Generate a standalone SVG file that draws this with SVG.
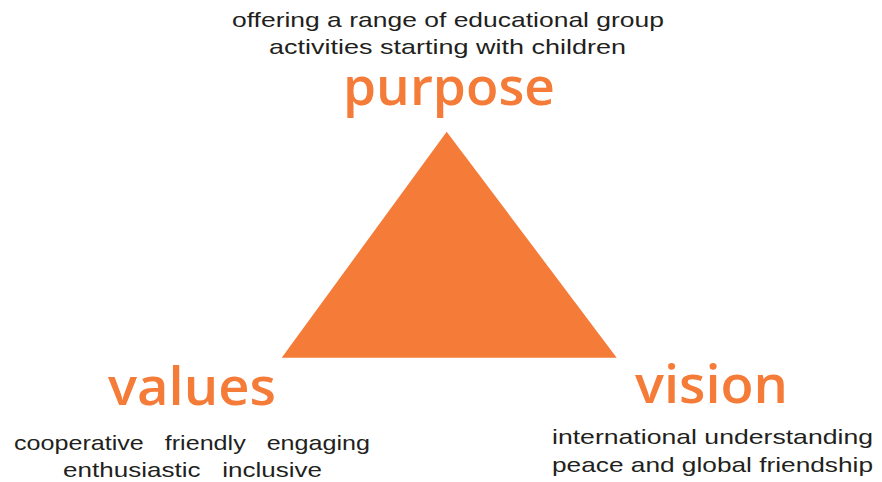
<svg xmlns="http://www.w3.org/2000/svg" width="882" height="482" viewBox="0 0 882 482">
  <style>
    .body { font-family: "Liberation Sans", Arial, sans-serif; font-size: 21px; fill: #231f20; }
    .head { font-family: "Open Sans", "Noto Sans", sans-serif; font-size: 52px; font-weight: 600; fill: #f47b38; }
  </style>
  <rect width="882" height="482" fill="#ffffff"/>

  <!-- central triangle -->
  <g id="triangle">
    <polygon points="446.7,131.7 616.7,357.7 281.7,357.7" fill="#f47b38"/>
  </g>

  <!-- top corner: purpose -->
  <g id="purpose">
    <text class="body" x="232" y="27" textLength="432" lengthAdjust="spacingAndGlyphs">offering a range of educational group</text>
    <text class="body" x="269" y="54" textLength="357" lengthAdjust="spacingAndGlyphs">activities starting with children</text>
    <text class="head" x="343" y="105" textLength="212" lengthAdjust="spacingAndGlyphs">purpose</text>
  </g>

  <!-- bottom-left corner: values -->
  <g id="values">
    <text class="head" x="108" y="405" textLength="168" lengthAdjust="spacingAndGlyphs">values</text>
    <text class="body" x="14" y="450" textLength="356" lengthAdjust="spacingAndGlyphs" xml:space="preserve">cooperative   friendly   engaging</text>
    <text class="body" x="63" y="477" textLength="259" lengthAdjust="spacingAndGlyphs" xml:space="preserve">enthusiastic   inclusive</text>
  </g>

  <!-- bottom-right corner: vision -->
  <g id="vision">
    <text class="head" x="635" y="403" textLength="153" lengthAdjust="spacingAndGlyphs">vision</text>
    <text class="body" x="552" y="444" textLength="321" lengthAdjust="spacingAndGlyphs">international understanding</text>
    <text class="body" x="552" y="472" textLength="321" lengthAdjust="spacingAndGlyphs">peace and global friendship</text>
  </g>

  <g id="connectors"/>
</svg>
